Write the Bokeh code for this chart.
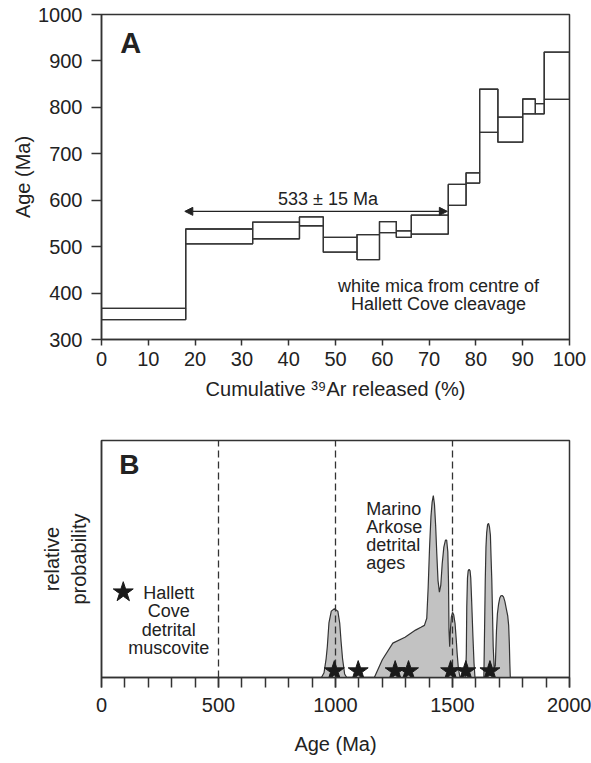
from bokeh.plotting import figure
from bokeh.models import (Range1d, Arrow, NormalHead, Label, SingleIntervalTicker,
                          FixedTicker)
from bokeh.layouts import column
from bokeh.embed import file_html
from bokeh.resources import INLINE

# ---------------- Panel A data: 40Ar/39Ar step-heating spectrum ----------------
cum_ar39_edges = [0, 18.0, 32.3, 42.3, 47.4, 54.6, 59.4, 63.0, 66.2, 74.1,
                  77.9, 80.8, 84.7, 90.0, 92.7, 94.6, 100]
step_age_hi = [367, 538, 553, 564, 520, 526, 554, 534, 568, 634, 659, 839,
               779, 818, 808, 919]
step_age_lo = [343, 506, 517, 545, 488, 472, 530, 520, 527, 589, 637, 746,
               725, 786, 786, 817]
plateau_start = 17.8
plateau_end = 73.9
plateau_label = "533 ± 15 Ma"
x_ticks_a = list(range(0, 101, 10))
y_ticks_a = list(range(300, 1001, 100))

# ---------------- Panel B data: detrital age probability ----------------
kde_age = [940, 951, 960, 965, 972, 982, 995, 1010, 1018, 1024, 1030, 1039, 1048,
           1166, 1200, 1245, 1297, 1342, 1365, 1380, 1390, 1396, 1402, 1408,
           1413, 1418, 1423, 1428, 1433, 1438, 1444, 1450, 1456, 1463, 1470,
           1475, 1480, 1483, 1485, 1488, 1491, 1495, 1500, 1505, 1511, 1516,
           1520, 1525, 1532,
           1556, 1559, 1561, 1564, 1567, 1571, 1575, 1578, 1582, 1587, 1592, 1596,
           1634, 1637, 1640, 1643, 1646, 1650, 1654, 1658, 1662, 1665, 1668,
           1671, 1674, 1678, 1683, 1688, 1692, 1697, 1702, 1707, 1712, 1718,
           1724, 1730, 1736, 1740, 1743, 1745, 1747]
kde_prob = [0, 0.02, 0.08, 0.13, 0.23, 0.28, 0.29, 0.28, 0.23, 0.15, 0.08, 0.015, 0,
            0, 0.075, 0.145, 0.17, 0.2, 0.212, 0.22, 0.25, 0.38, 0.55, 0.68,
            0.74, 0.768, 0.73, 0.64, 0.52, 0.41, 0.36, 0.39, 0.48, 0.55, 0.58,
            0.58, 0.53, 0.4, 0.2, 0.13, 0.2, 0.255, 0.275, 0.265, 0.227, 0.16,
            0.1, 0.04, 0,
            0, 0.1, 0.3, 0.42, 0.45, 0.457, 0.45, 0.42, 0.32, 0.18, 0.06, 0,
            0, 0.2, 0.41, 0.55, 0.61, 0.645, 0.65, 0.635, 0.6, 0.5, 0.41,
            0.27, 0.13, 0.04, 0.05, 0.2, 0.27, 0.31, 0.335, 0.345, 0.346, 0.34,
            0.32, 0.29, 0.26, 0.22, 0.14, 0.06, 0]
reference_ages = [500, 1000, 1500]
muscovite_ages = [995, 1097, 1255, 1312, 1492, 1557, 1660]

FONT = "Liberation Sans"
INK = "#333333"
TXT = "#222222"


def style_axes(p):
    p.grid.visible = False
    p.outline_line_color = INK
    p.outline_line_width = 1.5
    p.outline_line_alpha = 1.0
    for ax in (p.xaxis + p.yaxis):
        ax.axis_line_color = INK
        ax.axis_line_width = 1.5
        ax.major_tick_line_color = INK
        ax.major_tick_line_width = 1.5
        ax.minor_tick_line_color = INK
        ax.minor_tick_line_width = 1.5
        ax.major_tick_in = 0
        ax.minor_tick_in = 0
        ax.major_label_text_font = FONT
        ax.major_label_text_font_size = "20px"
        ax.major_label_text_color = TXT
        ax.axis_label_text_font = FONT
        ax.axis_label_text_font_size = "20px"
        ax.axis_label_text_font_style = "normal"
        ax.axis_label_text_color = TXT


# ---------------- Panel A ----------------
p1 = figure(width=591, height=415, x_range=Range1d(0, 100), y_range=Range1d(300, 1000),
            output_backend="svg", toolbar_location=None,
            min_border_left=101, min_border_right=17, min_border_top=14,
            min_border_bottom=76)
style_axes(p1)
p1.xaxis.ticker = FixedTicker(ticks=x_ticks_a)
p1.yaxis.ticker = FixedTicker(ticks=y_ticks_a)
p1.xaxis.major_tick_out = 6
p1.yaxis.major_tick_out = 10
p1.xaxis.minor_tick_out = 0
p1.yaxis.minor_tick_out = 0
p1.xaxis.major_label_standoff = 6
p1.yaxis.major_label_standoff = 9
p1.xaxis.axis_label = "Cumulative \u00b3\u2079Ar released (%)"
p1.yaxis.axis_label = "Age (Ma)"
p1.xaxis.axis_label_standoff = 9
p1.yaxis.axis_label_standoff = 1

p1.quad(left=cum_ar39_edges[:-1], right=cum_ar39_edges[1:], bottom=step_age_lo,
        top=step_age_hi, fill_color=None, line_color=INK, line_width=1.3)
p1.step(x=cum_ar39_edges, y=step_age_hi + [step_age_hi[-1]], mode="after",
        line_color=INK, line_width=1.3)
p1.step(x=cum_ar39_edges, y=step_age_lo + [step_age_lo[-1]], mode="after",
        line_color=INK, line_width=1.3)

p1.add_layout(Arrow(start=NormalHead(size=8, fill_color=TXT, line_color=TXT),
                    end=NormalHead(size=8, fill_color=TXT, line_color=TXT),
                    x_start=plateau_start, x_end=plateau_end, y_start=576, y_end=576,
                    line_color=TXT, line_width=1.2))
p1.add_layout(Label(x=48.4, y=603, text=plateau_label, text_align="center",
                    text_baseline="middle", text_font=FONT, text_font_size="18px",
                    text_color=TXT))
p1.add_layout(Label(x=72.0, y=416, text="white mica from centre of", text_align="center",
                    text_baseline="middle", text_font=FONT, text_font_size="18px",
                    text_color=TXT))
p1.add_layout(Label(x=72.0, y=376, text="Hallett Cove cleavage", text_align="center",
                    text_baseline="middle", text_font=FONT, text_font_size="18px",
                    text_color=TXT))
p1.add_layout(Label(x=4.0, y=939, text="A", text_align="left", text_baseline="middle",
                    text_font=FONT, text_font_size="29px", text_font_style="bold",
                    text_color=TXT))

# ---------------- Panel B ----------------
p2 = figure(width=591, height=348, x_range=Range1d(0, 2000), y_range=Range1d(0, 1),
            output_backend="svg", toolbar_location=None,
            min_border_left=88, min_border_right=22, min_border_top=25,
            min_border_bottom=86)
style_axes(p2)
p2.xaxis.ticker = SingleIntervalTicker(interval=500, num_minor_ticks=5)
p2.xaxis.major_tick_out = 10
p2.xaxis.minor_tick_out = 10
p2.xaxis.major_label_standoff = 10
p2.xaxis.axis_label = "Age (Ma)"
p2.xaxis.axis_label_standoff = 18
p2.yaxis.ticker = FixedTicker(ticks=[])
p2.yaxis.major_tick_out = 0
p2.yaxis.minor_tick_out = 0
p2.yaxis.axis_label = "relative\nprobability"
p2.yaxis.axis_label_standoff = 12

p2.patch(x=kde_age, y=kde_prob, fill_color="#c2c2c2", line_color=INK, line_width=1.2)
p2.segment(x0=reference_ages, y0=[0] * len(reference_ages), x1=reference_ages,
           y1=[1] * len(reference_ages), line_dash="7 4", line_color=INK, line_width=1.3)
p2.scatter(x=muscovite_ages, y=[0.027] * len(muscovite_ages), marker="star", size=21,
           fill_color="#1a1a1a", line_color="#1a1a1a")
p2.scatter(x=[93], y=[0.36], marker="star", size=21, fill_color="#1a1a1a",
           line_color="#1a1a1a")

for txt, yy in zip(["Hallett", "Cove", "detrital", "muscovite"], [0.357, 0.28, 0.2025, 0.125]):
    p2.add_layout(Label(x=287, y=yy, text=txt, text_align="center", text_baseline="middle",
                        text_font=FONT, text_font_size="18px", text_color=TXT))
for txt, yy in zip(["Marino", "Arkose", "detrital", "ages"], [0.712, 0.634, 0.557, 0.482]):
    p2.add_layout(Label(x=1131, y=yy, text=txt, text_align="left", text_baseline="middle",
                        text_font=FONT, text_font_size="18px", text_color=TXT))
p2.add_layout(Label(x=76, y=0.899, text="B", text_align="left", text_baseline="middle",
                    text_font=FONT, text_font_size="28px", text_font_style="bold",
                    text_color=TXT))

layout = column(p1, p2, spacing=0)
open("out.html", "w").write(file_html(layout, INLINE))
